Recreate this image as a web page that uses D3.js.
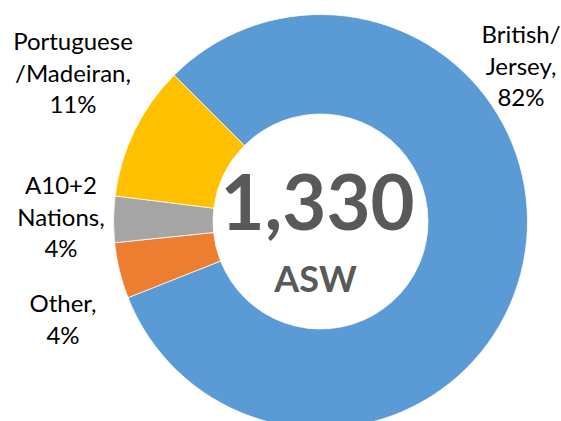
<!DOCTYPE html>
<html>
<head>
<meta charset="utf-8">
<script src="https://cdn.jsdelivr.net/npm/d3@7"></script>
<style>
  body { margin: 0; background: #fff; }
  text { font-family: Lato, Calibri, "Liberation Sans", sans-serif; }
</style>
</head>
<body>
<div id="chart"></div>
<script>
// data (counts of 1,330 ASW)
const categories = ['British/Jersey', 'Other', 'A10+2 Nations', 'Portuguese/Madeiran']
const values = [1084, 58, 48, 140]
const colors = ['#5B9BD5', '#ED7D31', '#A5A5A5', '#FFC000']
const labelLines = [
    ['British/', 'Jersey,'],
    ['Other,'],
    ['A10+2', 'Nations,'],
    ['Portuguese', '/Madeiran,'],
]
const totalLabel = '1,330'
const unitLabel = 'ASW'

const width = 561
const height = 421
const cx = 320.5
const cy = 221.5
const outerR = 207
const innerR = 107.5
const startAngle = -Math.PI / 4   // first slice begins at 10:30

// where Excel parked each data label (centre x, first baseline y)
const labelPos = [
    [521, 43],
    [63, 312],
    [61, 194],
    [73, 50],
]
const lineGap = 31.5

const svg = d3.select('#chart').append('svg')
    .attr('width', width)
    .attr('height', height)

const g = svg.append('g')
    .attr('transform', `translate(${cx}, ${cy})`)

const total = d3.sum(values)
const pie = d3.pie()
    .sort(null)
    .startAngle(startAngle)
    .endAngle(startAngle + 2 * Math.PI)
    .value(d => d.value)

const arc = d3.arc()
    .innerRadius(innerR)
    .outerRadius(outerR)

const slices = pie(categories.map((c, i) => ({name: c, value: values[i], i: i})))

g.selectAll('path.slice')
    .data(slices)
    .join('path')
    .attr('class', 'slice')
    .attr('d', arc)
    .attr('fill', d => colors[d.data.i])
    .attr('stroke', '#fff')
    .attr('stroke-width', 0.75)

// centre text
g.append('text')
    .attr('text-anchor', 'middle')
    .attr('x', -3)
    .attr('y', 8.5)
    .attr('font-size', 76)
    .attr('font-weight', 'bold')
    .attr('fill', '#595959')
    .text(totalLabel)

g.append('text')
    .attr('text-anchor', 'middle')
    .attr('x', -5)
    .attr('y', 70)
    .attr('font-size', 36)
    .attr('font-weight', 'bold')
    .attr('fill', '#595959')
    .text(unitLabel)

// data labels
const pct = d3.format('.0%')
slices.forEach(d => {
    const i = d.data.i
    const lines = labelLines[i].concat(pct(d.data.value / total))
    const t = svg.append('text')
        .attr('text-anchor', 'middle')
        .attr('font-size', 24)
        .attr('fill', '#000')
    lines.forEach((l, k) => {
        t.append('tspan')
            .attr('x', labelPos[i][0])
            .attr('y', labelPos[i][1] + k * lineGap)
            .text(l)
    })
})
</script>
</body>
</html>
